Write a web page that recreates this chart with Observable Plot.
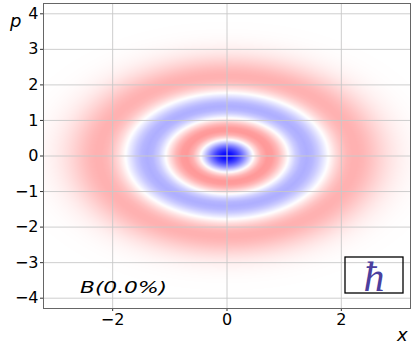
<!DOCTYPE html>
<html><head><meta charset="utf-8">
<script src="https://cdn.jsdelivr.net/npm/d3@7"></script>
<script src="https://cdn.jsdelivr.net/npm/@observablehq/plot@0.6"></script>
<style>body{margin:0;background:#fff}svg{display:block}</style>
</head><body><div id="chart"></div>
<script>
// Radial profile of the Wigner function W(r), r = 0, 0.1, 0.2, ...
const radiusStep = 0.1;
const wignerProfile = [
  -0.3183, -0.2964, -0.2353, -0.1477, -0.0510, 0.0361, 0.0987, 0.1280, 0.1228, 0.0895,
   0.0390, -0.0154, -0.0619, -0.0917, -0.1009, -0.0902, -0.0638, -0.0281, 0.0100, 0.0447,
   0.0719, 0.0895, 0.0973, 0.0967, 0.0896, 0.0784, 0.0654, 0.0522, 0.0401, 0.0296,
   0.0212, 0.0146, 0.0098, 0.0064, 0.0040, 0.0025, 0.0015, 0.0009, 0.0005, 0.0002, 0.0
];
const xDomain = [-3.21, 3.21];
const pDomain = [-4.29, 4.29];
const xTicks = [-2, 0, 2];
const pTicks = [-4, -3, -2, -1, 0, 1, 2, 3, 4];
const colorLimit = 0.3183;
const xLabel = "x";
const pLabel = "p";
const stateLabel = "B(0.0%)";
const hbarLabel = "ħ";

function profileAt(r) {
  const t = r / radiusStep;
  const i = Math.floor(t);
  if (i >= wignerProfile.length - 1) return wignerProfile[wignerProfile.length - 1];
  const f = t - i;
  return wignerProfile[i] * (1 - f) + wignerProfile[i + 1] * f;
}

const plot = Plot.plot({
  width: 414,
  height: 349,
  marginTop: 3,
  marginLeft: 43,
  marginRight: 4,
  marginBottom: 41,
  style: {fontFamily: "DejaVu Sans", fontSize: "16px", background: "#fff", color: "#000"},
  x: {domain: xDomain, label: null},
  y: {domain: pDomain, label: null},
  color: {type: "linear", domain: [-colorLimit, 0, colorLimit], range: ["#0000ff", "#ffffff", "#ff0000"], clamp: true},
  marks: [
    Plot.raster({
      fill: (x, y) => profileAt(Math.hypot(x, y)),
      x1: xDomain[0], x2: xDomain[1], y1: pDomain[0], y2: pDomain[1],
      pixelSize: 1
    }),
    Plot.gridX(xTicks, {stroke: "#c8c8c8", strokeOpacity: 1, strokeWidth: 0.9}),
    Plot.gridY(pTicks, {stroke: "#c8c8c8", strokeOpacity: 1, strokeWidth: 0.9}),
    Plot.axisX(xTicks, {tickSize: 3, tickPadding: 2, fontSize: 16, label: null, stroke: "#333"}),
    Plot.axisY(pTicks, {tickSize: 3, tickPadding: 2, fontSize: 16, label: null, stroke: "#333"}),
    Plot.frame({stroke: "#666", strokeWidth: 1})
  ]
});

const svg = d3.select(plot);
const sx = plot.scale("x"), sy = plot.scale("y");
const frameLeft = sx.apply(xDomain[0]), frameRight = sx.apply(xDomain[1]);
const frameTop = sy.apply(pDomain[1]), frameBottom = sy.apply(pDomain[0]);

svg.append("text").text(pLabel)
  .attr("x", frameLeft - 33).attr("y", frameTop + 24).attr("text-anchor", "start")
  .attr("font-family", "DejaVu Sans").attr("font-style", "italic").attr("font-size", 18).attr("fill", "#000");
svg.append("text").text(xLabel)
  .attr("x", frameRight - 13).attr("y", frameBottom + 33).attr("text-anchor", "start")
  .attr("font-family", "DejaVu Sans").attr("font-style", "italic").attr("font-size", 18).attr("fill", "#000");
svg.append("text").text(stateLabel)
  .attr("x", frameLeft + 37).attr("y", frameBottom - 15).attr("text-anchor", "start")
  .attr("textLength", 87).attr("lengthAdjust", "spacingAndGlyphs")
  .attr("font-family", "DejaVu Sans").attr("font-style", "italic").attr("font-size", 16).attr("fill", "#000");
svg.append("rect")
  .attr("x", frameRight - 65).attr("y", frameBottom - 51).attr("width", 58).attr("height", 36)
  .attr("fill", "none").attr("stroke", "#000").attr("stroke-width", 1.3);
svg.append("text").text(hbarLabel)
  .attr("x", frameRight - 36).attr("y", frameBottom - 17).attr("text-anchor", "middle")
  .attr("font-family", "Liberation Serif").attr("font-style", "italic").attr("font-size", 42).attr("fill", "#4b3f9e");

document.getElementById("chart").appendChild(plot);
</script>
</body></html>
